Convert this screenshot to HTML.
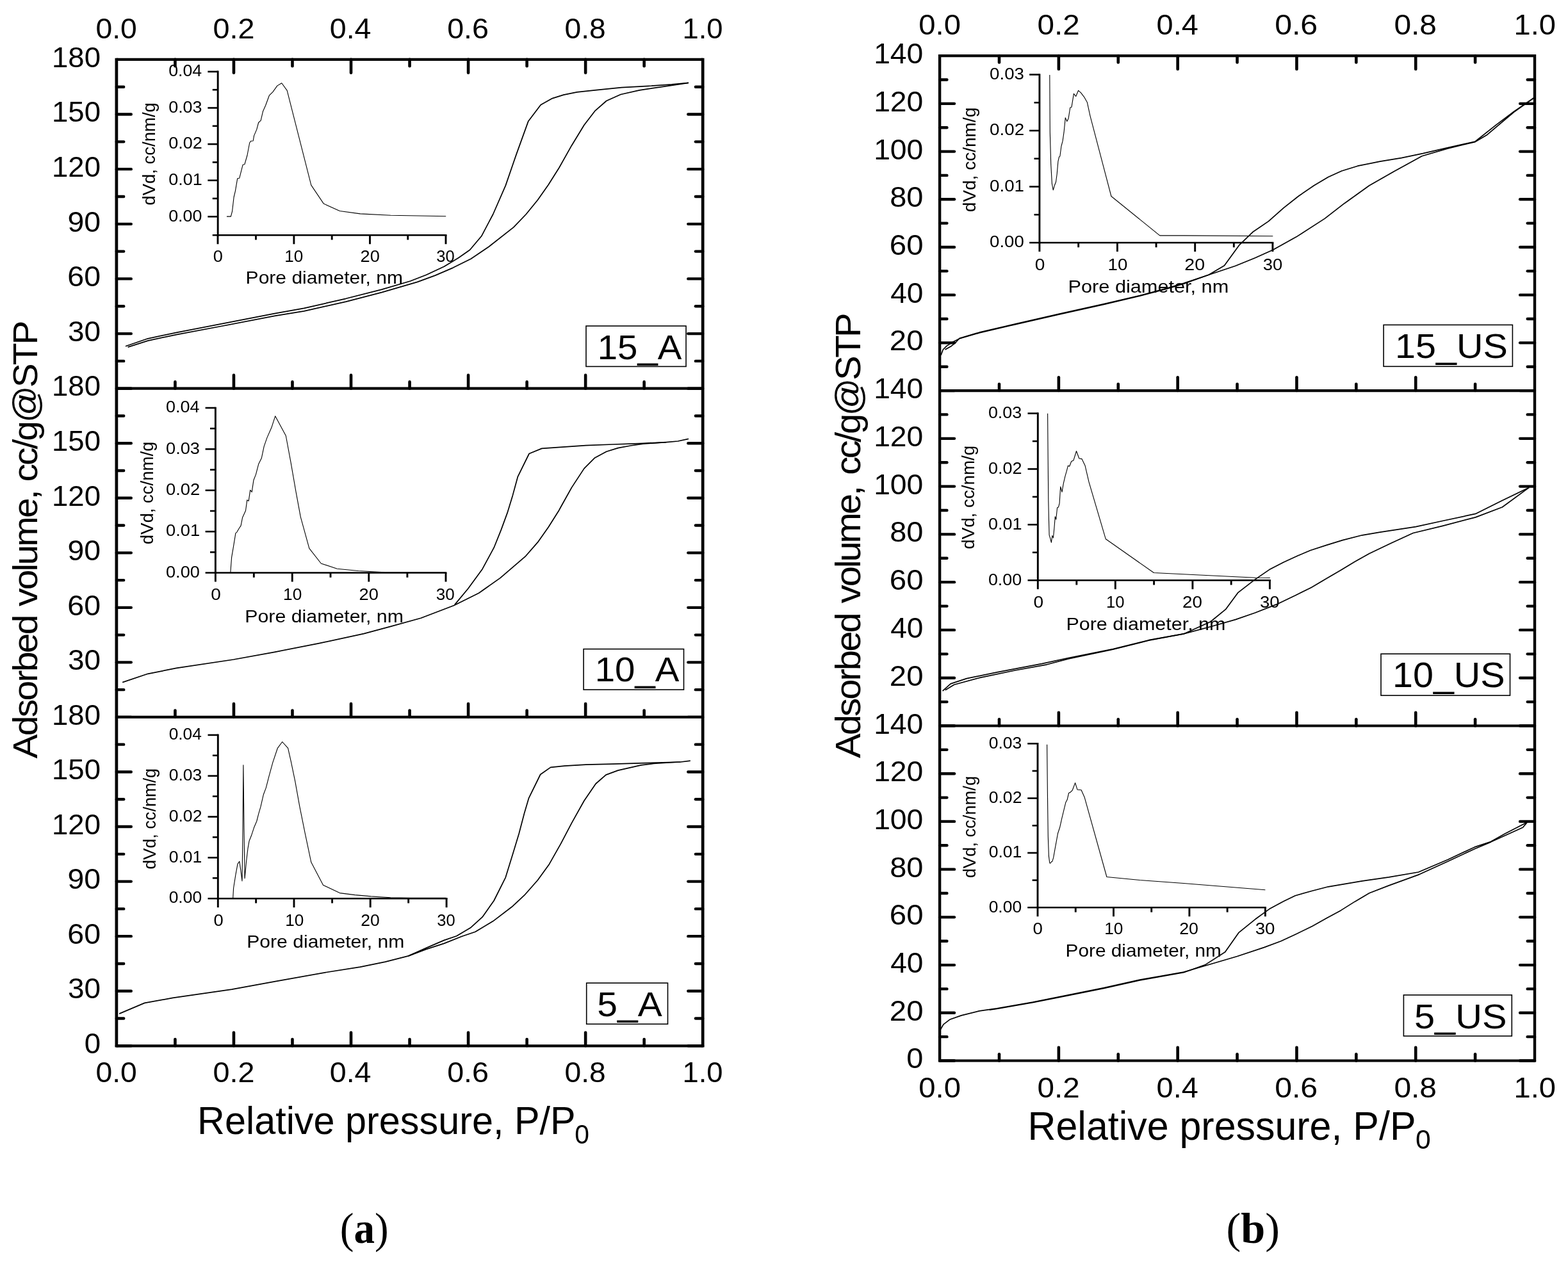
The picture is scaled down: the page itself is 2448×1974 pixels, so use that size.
<!DOCTYPE html>
<html><head><meta charset="utf-8"><title>Figure</title>
<style>
html,body{margin:0;padding:0;background:#fff;}
svg{display:block}
svg text{stroke:none;fill:#000;white-space:pre}
</style></head><body>
<svg width="2448" height="1974" viewBox="0 0 2448 1974" stroke="#000" fill="#000">
<line x1="181.90" y1="90.75" x2="181.90" y2="1635.45" stroke-width="4.7" stroke-linecap="butt"/>
<line x1="1097.20" y1="90.75" x2="1097.20" y2="1635.45" stroke-width="4.7" stroke-linecap="butt"/>
<line x1="181.90" y1="92.90" x2="1097.20" y2="92.90" stroke-width="4.3" stroke-linecap="butt"/>
<line x1="181.90" y1="606.70" x2="1097.20" y2="606.70" stroke-width="4.3" stroke-linecap="butt"/>
<line x1="181.90" y1="1119.90" x2="1097.20" y2="1119.90" stroke-width="4.3" stroke-linecap="butt"/>
<line x1="181.90" y1="1633.30" x2="1097.20" y2="1633.30" stroke-width="4.3" stroke-linecap="butt"/>
<line x1="273.43" y1="92.90" x2="273.43" y2="103.20" stroke-width="4.6" stroke-linecap="round"/>
<line x1="273.43" y1="606.70" x2="273.43" y2="596.40" stroke-width="4.6" stroke-linecap="round"/>
<line x1="273.43" y1="1119.90" x2="273.43" y2="1109.60" stroke-width="4.6" stroke-linecap="round"/>
<line x1="273.43" y1="1633.30" x2="273.43" y2="1623.00" stroke-width="4.6" stroke-linecap="round"/>
<line x1="364.96" y1="92.90" x2="364.96" y2="113.70" stroke-width="4.6" stroke-linecap="round"/>
<line x1="364.96" y1="606.70" x2="364.96" y2="585.90" stroke-width="4.6" stroke-linecap="round"/>
<line x1="364.96" y1="1119.90" x2="364.96" y2="1099.10" stroke-width="4.6" stroke-linecap="round"/>
<line x1="364.96" y1="1633.30" x2="364.96" y2="1612.50" stroke-width="4.6" stroke-linecap="round"/>
<line x1="456.49" y1="92.90" x2="456.49" y2="103.20" stroke-width="4.6" stroke-linecap="round"/>
<line x1="456.49" y1="606.70" x2="456.49" y2="596.40" stroke-width="4.6" stroke-linecap="round"/>
<line x1="456.49" y1="1119.90" x2="456.49" y2="1109.60" stroke-width="4.6" stroke-linecap="round"/>
<line x1="456.49" y1="1633.30" x2="456.49" y2="1623.00" stroke-width="4.6" stroke-linecap="round"/>
<line x1="548.02" y1="92.90" x2="548.02" y2="113.70" stroke-width="4.6" stroke-linecap="round"/>
<line x1="548.02" y1="606.70" x2="548.02" y2="585.90" stroke-width="4.6" stroke-linecap="round"/>
<line x1="548.02" y1="1119.90" x2="548.02" y2="1099.10" stroke-width="4.6" stroke-linecap="round"/>
<line x1="548.02" y1="1633.30" x2="548.02" y2="1612.50" stroke-width="4.6" stroke-linecap="round"/>
<line x1="639.55" y1="92.90" x2="639.55" y2="103.20" stroke-width="4.6" stroke-linecap="round"/>
<line x1="639.55" y1="606.70" x2="639.55" y2="596.40" stroke-width="4.6" stroke-linecap="round"/>
<line x1="639.55" y1="1119.90" x2="639.55" y2="1109.60" stroke-width="4.6" stroke-linecap="round"/>
<line x1="639.55" y1="1633.30" x2="639.55" y2="1623.00" stroke-width="4.6" stroke-linecap="round"/>
<line x1="731.08" y1="92.90" x2="731.08" y2="113.70" stroke-width="4.6" stroke-linecap="round"/>
<line x1="731.08" y1="606.70" x2="731.08" y2="585.90" stroke-width="4.6" stroke-linecap="round"/>
<line x1="731.08" y1="1119.90" x2="731.08" y2="1099.10" stroke-width="4.6" stroke-linecap="round"/>
<line x1="731.08" y1="1633.30" x2="731.08" y2="1612.50" stroke-width="4.6" stroke-linecap="round"/>
<line x1="822.61" y1="92.90" x2="822.61" y2="103.20" stroke-width="4.6" stroke-linecap="round"/>
<line x1="822.61" y1="606.70" x2="822.61" y2="596.40" stroke-width="4.6" stroke-linecap="round"/>
<line x1="822.61" y1="1119.90" x2="822.61" y2="1109.60" stroke-width="4.6" stroke-linecap="round"/>
<line x1="822.61" y1="1633.30" x2="822.61" y2="1623.00" stroke-width="4.6" stroke-linecap="round"/>
<line x1="914.14" y1="92.90" x2="914.14" y2="113.70" stroke-width="4.6" stroke-linecap="round"/>
<line x1="914.14" y1="606.70" x2="914.14" y2="585.90" stroke-width="4.6" stroke-linecap="round"/>
<line x1="914.14" y1="1119.90" x2="914.14" y2="1099.10" stroke-width="4.6" stroke-linecap="round"/>
<line x1="914.14" y1="1633.30" x2="914.14" y2="1612.50" stroke-width="4.6" stroke-linecap="round"/>
<line x1="1005.67" y1="92.90" x2="1005.67" y2="103.20" stroke-width="4.6" stroke-linecap="round"/>
<line x1="1005.67" y1="606.70" x2="1005.67" y2="596.40" stroke-width="4.6" stroke-linecap="round"/>
<line x1="1005.67" y1="1119.90" x2="1005.67" y2="1109.60" stroke-width="4.6" stroke-linecap="round"/>
<line x1="1005.67" y1="1633.30" x2="1005.67" y2="1623.00" stroke-width="4.6" stroke-linecap="round"/>
<line x1="181.90" y1="135.72" x2="193.22" y2="135.72" stroke-width="4.35" stroke-linecap="round"/>
<line x1="1097.20" y1="135.72" x2="1085.88" y2="135.72" stroke-width="4.35" stroke-linecap="round"/>
<line x1="181.90" y1="178.53" x2="204.82" y2="178.53" stroke-width="4.35" stroke-linecap="round"/>
<line x1="1097.20" y1="178.53" x2="1074.28" y2="178.53" stroke-width="4.35" stroke-linecap="round"/>
<line x1="181.90" y1="221.35" x2="193.22" y2="221.35" stroke-width="4.35" stroke-linecap="round"/>
<line x1="1097.20" y1="221.35" x2="1085.88" y2="221.35" stroke-width="4.35" stroke-linecap="round"/>
<line x1="181.90" y1="264.17" x2="204.82" y2="264.17" stroke-width="4.35" stroke-linecap="round"/>
<line x1="1097.20" y1="264.17" x2="1074.28" y2="264.17" stroke-width="4.35" stroke-linecap="round"/>
<line x1="181.90" y1="306.98" x2="193.22" y2="306.98" stroke-width="4.35" stroke-linecap="round"/>
<line x1="1097.20" y1="306.98" x2="1085.88" y2="306.98" stroke-width="4.35" stroke-linecap="round"/>
<line x1="181.90" y1="349.80" x2="204.82" y2="349.80" stroke-width="4.35" stroke-linecap="round"/>
<line x1="1097.20" y1="349.80" x2="1074.28" y2="349.80" stroke-width="4.35" stroke-linecap="round"/>
<line x1="181.90" y1="392.62" x2="193.22" y2="392.62" stroke-width="4.35" stroke-linecap="round"/>
<line x1="1097.20" y1="392.62" x2="1085.88" y2="392.62" stroke-width="4.35" stroke-linecap="round"/>
<line x1="181.90" y1="435.43" x2="204.82" y2="435.43" stroke-width="4.35" stroke-linecap="round"/>
<line x1="1097.20" y1="435.43" x2="1074.28" y2="435.43" stroke-width="4.35" stroke-linecap="round"/>
<line x1="181.90" y1="478.25" x2="193.22" y2="478.25" stroke-width="4.35" stroke-linecap="round"/>
<line x1="1097.20" y1="478.25" x2="1085.88" y2="478.25" stroke-width="4.35" stroke-linecap="round"/>
<line x1="181.90" y1="521.07" x2="204.82" y2="521.07" stroke-width="4.35" stroke-linecap="round"/>
<line x1="1097.20" y1="521.07" x2="1074.28" y2="521.07" stroke-width="4.35" stroke-linecap="round"/>
<line x1="181.90" y1="563.88" x2="193.22" y2="563.88" stroke-width="4.35" stroke-linecap="round"/>
<line x1="1097.20" y1="563.88" x2="1085.88" y2="563.88" stroke-width="4.35" stroke-linecap="round"/>
<line x1="181.90" y1="606.70" x2="204.82" y2="606.70" stroke-width="4.35" stroke-linecap="round"/>
<line x1="1097.20" y1="606.70" x2="1074.28" y2="606.70" stroke-width="4.35" stroke-linecap="round"/>
<text transform="translate(80.98,104.66) scale(1.0339,1)" font-size="44.10" font-family="'Liberation Sans',Arial,sans-serif">180</text>
<text transform="translate(80.98,190.29) scale(1.0339,1)" font-size="44.10" font-family="'Liberation Sans',Arial,sans-serif">150</text>
<text transform="translate(80.98,275.93) scale(1.0339,1)" font-size="44.10" font-family="'Liberation Sans',Arial,sans-serif">120</text>
<text transform="translate(105.49,361.56) scale(1.0531,1)" font-size="44.10" font-family="'Liberation Sans',Arial,sans-serif">90</text>
<text transform="translate(105.37,447.19) scale(1.0556,1)" font-size="44.10" font-family="'Liberation Sans',Arial,sans-serif">60</text>
<text transform="translate(105.98,532.83) scale(1.0429,1)" font-size="44.10" font-family="'Liberation Sans',Arial,sans-serif">30</text>
<line x1="181.90" y1="649.47" x2="193.22" y2="649.47" stroke-width="4.35" stroke-linecap="round"/>
<line x1="1097.20" y1="649.47" x2="1085.88" y2="649.47" stroke-width="4.35" stroke-linecap="round"/>
<line x1="181.90" y1="692.23" x2="204.82" y2="692.23" stroke-width="4.35" stroke-linecap="round"/>
<line x1="1097.20" y1="692.23" x2="1074.28" y2="692.23" stroke-width="4.35" stroke-linecap="round"/>
<line x1="181.90" y1="735.00" x2="193.22" y2="735.00" stroke-width="4.35" stroke-linecap="round"/>
<line x1="1097.20" y1="735.00" x2="1085.88" y2="735.00" stroke-width="4.35" stroke-linecap="round"/>
<line x1="181.90" y1="777.77" x2="204.82" y2="777.77" stroke-width="4.35" stroke-linecap="round"/>
<line x1="1097.20" y1="777.77" x2="1074.28" y2="777.77" stroke-width="4.35" stroke-linecap="round"/>
<line x1="181.90" y1="820.53" x2="193.22" y2="820.53" stroke-width="4.35" stroke-linecap="round"/>
<line x1="1097.20" y1="820.53" x2="1085.88" y2="820.53" stroke-width="4.35" stroke-linecap="round"/>
<line x1="181.90" y1="863.30" x2="204.82" y2="863.30" stroke-width="4.35" stroke-linecap="round"/>
<line x1="1097.20" y1="863.30" x2="1074.28" y2="863.30" stroke-width="4.35" stroke-linecap="round"/>
<line x1="181.90" y1="906.07" x2="193.22" y2="906.07" stroke-width="4.35" stroke-linecap="round"/>
<line x1="1097.20" y1="906.07" x2="1085.88" y2="906.07" stroke-width="4.35" stroke-linecap="round"/>
<line x1="181.90" y1="948.83" x2="204.82" y2="948.83" stroke-width="4.35" stroke-linecap="round"/>
<line x1="1097.20" y1="948.83" x2="1074.28" y2="948.83" stroke-width="4.35" stroke-linecap="round"/>
<line x1="181.90" y1="991.60" x2="193.22" y2="991.60" stroke-width="4.35" stroke-linecap="round"/>
<line x1="1097.20" y1="991.60" x2="1085.88" y2="991.60" stroke-width="4.35" stroke-linecap="round"/>
<line x1="181.90" y1="1034.37" x2="204.82" y2="1034.37" stroke-width="4.35" stroke-linecap="round"/>
<line x1="1097.20" y1="1034.37" x2="1074.28" y2="1034.37" stroke-width="4.35" stroke-linecap="round"/>
<line x1="181.90" y1="1077.13" x2="193.22" y2="1077.13" stroke-width="4.35" stroke-linecap="round"/>
<line x1="1097.20" y1="1077.13" x2="1085.88" y2="1077.13" stroke-width="4.35" stroke-linecap="round"/>
<line x1="181.90" y1="1119.90" x2="204.82" y2="1119.90" stroke-width="4.35" stroke-linecap="round"/>
<line x1="1097.20" y1="1119.90" x2="1074.28" y2="1119.90" stroke-width="4.35" stroke-linecap="round"/>
<text transform="translate(80.98,618.46) scale(1.0339,1)" font-size="44.10" font-family="'Liberation Sans',Arial,sans-serif">180</text>
<text transform="translate(80.98,703.99) scale(1.0339,1)" font-size="44.10" font-family="'Liberation Sans',Arial,sans-serif">150</text>
<text transform="translate(80.98,789.53) scale(1.0339,1)" font-size="44.10" font-family="'Liberation Sans',Arial,sans-serif">120</text>
<text transform="translate(105.49,875.06) scale(1.0531,1)" font-size="44.10" font-family="'Liberation Sans',Arial,sans-serif">90</text>
<text transform="translate(105.37,960.59) scale(1.0556,1)" font-size="44.10" font-family="'Liberation Sans',Arial,sans-serif">60</text>
<text transform="translate(105.98,1046.13) scale(1.0429,1)" font-size="44.10" font-family="'Liberation Sans',Arial,sans-serif">30</text>
<line x1="181.90" y1="1162.68" x2="193.22" y2="1162.68" stroke-width="4.35" stroke-linecap="round"/>
<line x1="1097.20" y1="1162.68" x2="1085.88" y2="1162.68" stroke-width="4.35" stroke-linecap="round"/>
<line x1="181.90" y1="1205.47" x2="204.82" y2="1205.47" stroke-width="4.35" stroke-linecap="round"/>
<line x1="1097.20" y1="1205.47" x2="1074.28" y2="1205.47" stroke-width="4.35" stroke-linecap="round"/>
<line x1="181.90" y1="1248.25" x2="193.22" y2="1248.25" stroke-width="4.35" stroke-linecap="round"/>
<line x1="1097.20" y1="1248.25" x2="1085.88" y2="1248.25" stroke-width="4.35" stroke-linecap="round"/>
<line x1="181.90" y1="1291.03" x2="204.82" y2="1291.03" stroke-width="4.35" stroke-linecap="round"/>
<line x1="1097.20" y1="1291.03" x2="1074.28" y2="1291.03" stroke-width="4.35" stroke-linecap="round"/>
<line x1="181.90" y1="1333.82" x2="193.22" y2="1333.82" stroke-width="4.35" stroke-linecap="round"/>
<line x1="1097.20" y1="1333.82" x2="1085.88" y2="1333.82" stroke-width="4.35" stroke-linecap="round"/>
<line x1="181.90" y1="1376.60" x2="204.82" y2="1376.60" stroke-width="4.35" stroke-linecap="round"/>
<line x1="1097.20" y1="1376.60" x2="1074.28" y2="1376.60" stroke-width="4.35" stroke-linecap="round"/>
<line x1="181.90" y1="1419.38" x2="193.22" y2="1419.38" stroke-width="4.35" stroke-linecap="round"/>
<line x1="1097.20" y1="1419.38" x2="1085.88" y2="1419.38" stroke-width="4.35" stroke-linecap="round"/>
<line x1="181.90" y1="1462.17" x2="204.82" y2="1462.17" stroke-width="4.35" stroke-linecap="round"/>
<line x1="1097.20" y1="1462.17" x2="1074.28" y2="1462.17" stroke-width="4.35" stroke-linecap="round"/>
<line x1="181.90" y1="1504.95" x2="193.22" y2="1504.95" stroke-width="4.35" stroke-linecap="round"/>
<line x1="1097.20" y1="1504.95" x2="1085.88" y2="1504.95" stroke-width="4.35" stroke-linecap="round"/>
<line x1="181.90" y1="1547.73" x2="204.82" y2="1547.73" stroke-width="4.35" stroke-linecap="round"/>
<line x1="1097.20" y1="1547.73" x2="1074.28" y2="1547.73" stroke-width="4.35" stroke-linecap="round"/>
<line x1="181.90" y1="1590.52" x2="193.22" y2="1590.52" stroke-width="4.35" stroke-linecap="round"/>
<line x1="1097.20" y1="1590.52" x2="1085.88" y2="1590.52" stroke-width="4.35" stroke-linecap="round"/>
<line x1="181.90" y1="1633.30" x2="204.82" y2="1633.30" stroke-width="4.35" stroke-linecap="round"/>
<line x1="1097.20" y1="1633.30" x2="1074.28" y2="1633.30" stroke-width="4.35" stroke-linecap="round"/>
<text transform="translate(80.98,1131.66) scale(1.0339,1)" font-size="44.10" font-family="'Liberation Sans',Arial,sans-serif">180</text>
<text transform="translate(80.98,1217.23) scale(1.0339,1)" font-size="44.10" font-family="'Liberation Sans',Arial,sans-serif">150</text>
<text transform="translate(80.98,1302.79) scale(1.0339,1)" font-size="44.10" font-family="'Liberation Sans',Arial,sans-serif">120</text>
<text transform="translate(105.49,1388.36) scale(1.0531,1)" font-size="44.10" font-family="'Liberation Sans',Arial,sans-serif">90</text>
<text transform="translate(105.37,1473.93) scale(1.0556,1)" font-size="44.10" font-family="'Liberation Sans',Arial,sans-serif">60</text>
<text transform="translate(105.98,1559.49) scale(1.0429,1)" font-size="44.10" font-family="'Liberation Sans',Arial,sans-serif">30</text>
<text transform="translate(131.67,1644.76) scale(1.0353,1)" font-size="44.10" font-family="'Liberation Sans',Arial,sans-serif">0</text>
<text transform="translate(149.45,60.36) scale(1.0505,1)" font-size="44.10" font-family="'Liberation Sans',Arial,sans-serif">0.0</text>
<text transform="translate(149.45,1689.56) scale(1.0505,1)" font-size="44.10" font-family="'Liberation Sans',Arial,sans-serif">0.0</text>
<text transform="translate(332.53,60.36) scale(1.0606,1)" font-size="44.10" font-family="'Liberation Sans',Arial,sans-serif">0.2</text>
<text transform="translate(332.53,1689.56) scale(1.0606,1)" font-size="44.10" font-family="'Liberation Sans',Arial,sans-serif">0.2</text>
<text transform="translate(514.73,60.36) scale(1.0579,1)" font-size="44.10" font-family="'Liberation Sans',Arial,sans-serif">0.4</text>
<text transform="translate(514.73,1689.56) scale(1.0579,1)" font-size="44.10" font-family="'Liberation Sans',Arial,sans-serif">0.4</text>
<text transform="translate(698.13,60.36) scale(1.0579,1)" font-size="44.10" font-family="'Liberation Sans',Arial,sans-serif">0.6</text>
<text transform="translate(698.13,1689.56) scale(1.0579,1)" font-size="44.10" font-family="'Liberation Sans',Arial,sans-serif">0.6</text>
<text transform="translate(881.45,60.36) scale(1.0493,1)" font-size="44.10" font-family="'Liberation Sans',Arial,sans-serif">0.8</text>
<text transform="translate(881.45,1689.56) scale(1.0493,1)" font-size="44.10" font-family="'Liberation Sans',Arial,sans-serif">0.8</text>
<text transform="translate(1065.49,60.36) scale(1.0295,1)" font-size="44.10" font-family="'Liberation Sans',Arial,sans-serif">1.0</text>
<text transform="translate(1065.49,1689.56) scale(1.0295,1)" font-size="44.10" font-family="'Liberation Sans',Arial,sans-serif">1.0</text>
<line x1="1467.10" y1="85.08" x2="1467.10" y2="1658.58" stroke-width="4.4" stroke-linecap="butt"/>
<line x1="2396.00" y1="85.08" x2="2396.00" y2="1658.58" stroke-width="4.4" stroke-linecap="butt"/>
<line x1="1467.10" y1="87.16" x2="2396.00" y2="87.16" stroke-width="4.15" stroke-linecap="butt"/>
<line x1="1467.10" y1="610.05" x2="2396.00" y2="610.05" stroke-width="4.15" stroke-linecap="butt"/>
<line x1="1467.10" y1="1133.50" x2="2396.00" y2="1133.50" stroke-width="4.15" stroke-linecap="butt"/>
<line x1="1467.10" y1="1656.50" x2="2396.00" y2="1656.50" stroke-width="4.15" stroke-linecap="butt"/>
<line x1="1559.99" y1="87.16" x2="1559.99" y2="97.46" stroke-width="4.6" stroke-linecap="round"/>
<line x1="1559.99" y1="610.05" x2="1559.99" y2="599.75" stroke-width="4.6" stroke-linecap="round"/>
<line x1="1559.99" y1="1133.50" x2="1559.99" y2="1123.20" stroke-width="4.6" stroke-linecap="round"/>
<line x1="1559.99" y1="1656.50" x2="1559.99" y2="1646.20" stroke-width="4.6" stroke-linecap="round"/>
<line x1="1652.88" y1="87.16" x2="1652.88" y2="107.96" stroke-width="4.6" stroke-linecap="round"/>
<line x1="1652.88" y1="610.05" x2="1652.88" y2="589.25" stroke-width="4.6" stroke-linecap="round"/>
<line x1="1652.88" y1="1133.50" x2="1652.88" y2="1112.70" stroke-width="4.6" stroke-linecap="round"/>
<line x1="1652.88" y1="1656.50" x2="1652.88" y2="1635.70" stroke-width="4.6" stroke-linecap="round"/>
<line x1="1745.77" y1="87.16" x2="1745.77" y2="97.46" stroke-width="4.6" stroke-linecap="round"/>
<line x1="1745.77" y1="610.05" x2="1745.77" y2="599.75" stroke-width="4.6" stroke-linecap="round"/>
<line x1="1745.77" y1="1133.50" x2="1745.77" y2="1123.20" stroke-width="4.6" stroke-linecap="round"/>
<line x1="1745.77" y1="1656.50" x2="1745.77" y2="1646.20" stroke-width="4.6" stroke-linecap="round"/>
<line x1="1838.66" y1="87.16" x2="1838.66" y2="107.96" stroke-width="4.6" stroke-linecap="round"/>
<line x1="1838.66" y1="610.05" x2="1838.66" y2="589.25" stroke-width="4.6" stroke-linecap="round"/>
<line x1="1838.66" y1="1133.50" x2="1838.66" y2="1112.70" stroke-width="4.6" stroke-linecap="round"/>
<line x1="1838.66" y1="1656.50" x2="1838.66" y2="1635.70" stroke-width="4.6" stroke-linecap="round"/>
<line x1="1931.55" y1="87.16" x2="1931.55" y2="97.46" stroke-width="4.6" stroke-linecap="round"/>
<line x1="1931.55" y1="610.05" x2="1931.55" y2="599.75" stroke-width="4.6" stroke-linecap="round"/>
<line x1="1931.55" y1="1133.50" x2="1931.55" y2="1123.20" stroke-width="4.6" stroke-linecap="round"/>
<line x1="1931.55" y1="1656.50" x2="1931.55" y2="1646.20" stroke-width="4.6" stroke-linecap="round"/>
<line x1="2024.44" y1="87.16" x2="2024.44" y2="107.96" stroke-width="4.6" stroke-linecap="round"/>
<line x1="2024.44" y1="610.05" x2="2024.44" y2="589.25" stroke-width="4.6" stroke-linecap="round"/>
<line x1="2024.44" y1="1133.50" x2="2024.44" y2="1112.70" stroke-width="4.6" stroke-linecap="round"/>
<line x1="2024.44" y1="1656.50" x2="2024.44" y2="1635.70" stroke-width="4.6" stroke-linecap="round"/>
<line x1="2117.33" y1="87.16" x2="2117.33" y2="97.46" stroke-width="4.6" stroke-linecap="round"/>
<line x1="2117.33" y1="610.05" x2="2117.33" y2="599.75" stroke-width="4.6" stroke-linecap="round"/>
<line x1="2117.33" y1="1133.50" x2="2117.33" y2="1123.20" stroke-width="4.6" stroke-linecap="round"/>
<line x1="2117.33" y1="1656.50" x2="2117.33" y2="1646.20" stroke-width="4.6" stroke-linecap="round"/>
<line x1="2210.22" y1="87.16" x2="2210.22" y2="107.96" stroke-width="4.6" stroke-linecap="round"/>
<line x1="2210.22" y1="610.05" x2="2210.22" y2="589.25" stroke-width="4.6" stroke-linecap="round"/>
<line x1="2210.22" y1="1133.50" x2="2210.22" y2="1112.70" stroke-width="4.6" stroke-linecap="round"/>
<line x1="2210.22" y1="1656.50" x2="2210.22" y2="1635.70" stroke-width="4.6" stroke-linecap="round"/>
<line x1="2303.11" y1="87.16" x2="2303.11" y2="97.46" stroke-width="4.6" stroke-linecap="round"/>
<line x1="2303.11" y1="610.05" x2="2303.11" y2="599.75" stroke-width="4.6" stroke-linecap="round"/>
<line x1="2303.11" y1="1133.50" x2="2303.11" y2="1123.20" stroke-width="4.6" stroke-linecap="round"/>
<line x1="2303.11" y1="1656.50" x2="2303.11" y2="1646.20" stroke-width="4.6" stroke-linecap="round"/>
<line x1="1467.10" y1="124.51" x2="1478.42" y2="124.51" stroke-width="4.35" stroke-linecap="round"/>
<line x1="2396.00" y1="124.51" x2="2384.68" y2="124.51" stroke-width="4.35" stroke-linecap="round"/>
<line x1="1467.10" y1="161.86" x2="1490.02" y2="161.86" stroke-width="4.35" stroke-linecap="round"/>
<line x1="2396.00" y1="161.86" x2="2373.08" y2="161.86" stroke-width="4.35" stroke-linecap="round"/>
<line x1="1467.10" y1="199.21" x2="1478.42" y2="199.21" stroke-width="4.35" stroke-linecap="round"/>
<line x1="2396.00" y1="199.21" x2="2384.68" y2="199.21" stroke-width="4.35" stroke-linecap="round"/>
<line x1="1467.10" y1="236.56" x2="1490.02" y2="236.56" stroke-width="4.35" stroke-linecap="round"/>
<line x1="2396.00" y1="236.56" x2="2373.08" y2="236.56" stroke-width="4.35" stroke-linecap="round"/>
<line x1="1467.10" y1="273.91" x2="1478.42" y2="273.91" stroke-width="4.35" stroke-linecap="round"/>
<line x1="2396.00" y1="273.91" x2="2384.68" y2="273.91" stroke-width="4.35" stroke-linecap="round"/>
<line x1="1467.10" y1="311.26" x2="1490.02" y2="311.26" stroke-width="4.35" stroke-linecap="round"/>
<line x1="2396.00" y1="311.26" x2="2373.08" y2="311.26" stroke-width="4.35" stroke-linecap="round"/>
<line x1="1467.10" y1="348.61" x2="1478.42" y2="348.61" stroke-width="4.35" stroke-linecap="round"/>
<line x1="2396.00" y1="348.61" x2="2384.68" y2="348.61" stroke-width="4.35" stroke-linecap="round"/>
<line x1="1467.10" y1="385.95" x2="1490.02" y2="385.95" stroke-width="4.35" stroke-linecap="round"/>
<line x1="2396.00" y1="385.95" x2="2373.08" y2="385.95" stroke-width="4.35" stroke-linecap="round"/>
<line x1="1467.10" y1="423.30" x2="1478.42" y2="423.30" stroke-width="4.35" stroke-linecap="round"/>
<line x1="2396.00" y1="423.30" x2="2384.68" y2="423.30" stroke-width="4.35" stroke-linecap="round"/>
<line x1="1467.10" y1="460.65" x2="1490.02" y2="460.65" stroke-width="4.35" stroke-linecap="round"/>
<line x1="2396.00" y1="460.65" x2="2373.08" y2="460.65" stroke-width="4.35" stroke-linecap="round"/>
<line x1="1467.10" y1="498.00" x2="1478.42" y2="498.00" stroke-width="4.35" stroke-linecap="round"/>
<line x1="2396.00" y1="498.00" x2="2384.68" y2="498.00" stroke-width="4.35" stroke-linecap="round"/>
<line x1="1467.10" y1="535.35" x2="1490.02" y2="535.35" stroke-width="4.35" stroke-linecap="round"/>
<line x1="2396.00" y1="535.35" x2="2373.08" y2="535.35" stroke-width="4.35" stroke-linecap="round"/>
<line x1="1467.10" y1="572.70" x2="1478.42" y2="572.70" stroke-width="4.35" stroke-linecap="round"/>
<line x1="2396.00" y1="572.70" x2="2384.68" y2="572.70" stroke-width="4.35" stroke-linecap="round"/>
<line x1="1467.10" y1="610.05" x2="1490.02" y2="610.05" stroke-width="4.35" stroke-linecap="round"/>
<line x1="2396.00" y1="610.05" x2="2373.08" y2="610.05" stroke-width="4.35" stroke-linecap="round"/>
<text transform="translate(1364.13,99.16) scale(1.0334,1)" font-size="44.81" font-family="'Liberation Sans',Arial,sans-serif">140</text>
<text transform="translate(1364.13,173.86) scale(1.0334,1)" font-size="44.81" font-family="'Liberation Sans',Arial,sans-serif">120</text>
<text transform="translate(1364.13,248.56) scale(1.0334,1)" font-size="44.81" font-family="'Liberation Sans',Arial,sans-serif">100</text>
<text transform="translate(1389.20,323.26) scale(1.0488,1)" font-size="44.81" font-family="'Liberation Sans',Arial,sans-serif">80</text>
<text transform="translate(1388.83,397.96) scale(1.0565,1)" font-size="44.81" font-family="'Liberation Sans',Arial,sans-serif">60</text>
<text transform="translate(1390.16,472.65) scale(1.0288,1)" font-size="44.81" font-family="'Liberation Sans',Arial,sans-serif">40</text>
<text transform="translate(1388.83,547.35) scale(1.0565,1)" font-size="44.81" font-family="'Liberation Sans',Arial,sans-serif">20</text>
<line x1="1467.10" y1="647.44" x2="1478.42" y2="647.44" stroke-width="4.35" stroke-linecap="round"/>
<line x1="2396.00" y1="647.44" x2="2384.68" y2="647.44" stroke-width="4.35" stroke-linecap="round"/>
<line x1="1467.10" y1="684.83" x2="1490.02" y2="684.83" stroke-width="4.35" stroke-linecap="round"/>
<line x1="2396.00" y1="684.83" x2="2373.08" y2="684.83" stroke-width="4.35" stroke-linecap="round"/>
<line x1="1467.10" y1="722.22" x2="1478.42" y2="722.22" stroke-width="4.35" stroke-linecap="round"/>
<line x1="2396.00" y1="722.22" x2="2384.68" y2="722.22" stroke-width="4.35" stroke-linecap="round"/>
<line x1="1467.10" y1="759.61" x2="1490.02" y2="759.61" stroke-width="4.35" stroke-linecap="round"/>
<line x1="2396.00" y1="759.61" x2="2373.08" y2="759.61" stroke-width="4.35" stroke-linecap="round"/>
<line x1="1467.10" y1="797.00" x2="1478.42" y2="797.00" stroke-width="4.35" stroke-linecap="round"/>
<line x1="2396.00" y1="797.00" x2="2384.68" y2="797.00" stroke-width="4.35" stroke-linecap="round"/>
<line x1="1467.10" y1="834.39" x2="1490.02" y2="834.39" stroke-width="4.35" stroke-linecap="round"/>
<line x1="2396.00" y1="834.39" x2="2373.08" y2="834.39" stroke-width="4.35" stroke-linecap="round"/>
<line x1="1467.10" y1="871.77" x2="1478.42" y2="871.77" stroke-width="4.35" stroke-linecap="round"/>
<line x1="2396.00" y1="871.77" x2="2384.68" y2="871.77" stroke-width="4.35" stroke-linecap="round"/>
<line x1="1467.10" y1="909.16" x2="1490.02" y2="909.16" stroke-width="4.35" stroke-linecap="round"/>
<line x1="2396.00" y1="909.16" x2="2373.08" y2="909.16" stroke-width="4.35" stroke-linecap="round"/>
<line x1="1467.10" y1="946.55" x2="1478.42" y2="946.55" stroke-width="4.35" stroke-linecap="round"/>
<line x1="2396.00" y1="946.55" x2="2384.68" y2="946.55" stroke-width="4.35" stroke-linecap="round"/>
<line x1="1467.10" y1="983.94" x2="1490.02" y2="983.94" stroke-width="4.35" stroke-linecap="round"/>
<line x1="2396.00" y1="983.94" x2="2373.08" y2="983.94" stroke-width="4.35" stroke-linecap="round"/>
<line x1="1467.10" y1="1021.33" x2="1478.42" y2="1021.33" stroke-width="4.35" stroke-linecap="round"/>
<line x1="2396.00" y1="1021.33" x2="2384.68" y2="1021.33" stroke-width="4.35" stroke-linecap="round"/>
<line x1="1467.10" y1="1058.72" x2="1490.02" y2="1058.72" stroke-width="4.35" stroke-linecap="round"/>
<line x1="2396.00" y1="1058.72" x2="2373.08" y2="1058.72" stroke-width="4.35" stroke-linecap="round"/>
<line x1="1467.10" y1="1096.11" x2="1478.42" y2="1096.11" stroke-width="4.35" stroke-linecap="round"/>
<line x1="2396.00" y1="1096.11" x2="2384.68" y2="1096.11" stroke-width="4.35" stroke-linecap="round"/>
<line x1="1467.10" y1="1133.50" x2="1490.02" y2="1133.50" stroke-width="4.35" stroke-linecap="round"/>
<line x1="2396.00" y1="1133.50" x2="2373.08" y2="1133.50" stroke-width="4.35" stroke-linecap="round"/>
<text transform="translate(1364.13,622.05) scale(1.0334,1)" font-size="44.81" font-family="'Liberation Sans',Arial,sans-serif">140</text>
<text transform="translate(1364.13,696.83) scale(1.0334,1)" font-size="44.81" font-family="'Liberation Sans',Arial,sans-serif">120</text>
<text transform="translate(1364.13,771.61) scale(1.0334,1)" font-size="44.81" font-family="'Liberation Sans',Arial,sans-serif">100</text>
<text transform="translate(1389.20,846.39) scale(1.0488,1)" font-size="44.81" font-family="'Liberation Sans',Arial,sans-serif">80</text>
<text transform="translate(1388.83,921.17) scale(1.0565,1)" font-size="44.81" font-family="'Liberation Sans',Arial,sans-serif">60</text>
<text transform="translate(1390.16,995.94) scale(1.0288,1)" font-size="44.81" font-family="'Liberation Sans',Arial,sans-serif">40</text>
<text transform="translate(1388.83,1070.72) scale(1.0565,1)" font-size="44.81" font-family="'Liberation Sans',Arial,sans-serif">20</text>
<line x1="1467.10" y1="1170.86" x2="1478.42" y2="1170.86" stroke-width="4.35" stroke-linecap="round"/>
<line x1="2396.00" y1="1170.86" x2="2384.68" y2="1170.86" stroke-width="4.35" stroke-linecap="round"/>
<line x1="1467.10" y1="1208.21" x2="1490.02" y2="1208.21" stroke-width="4.35" stroke-linecap="round"/>
<line x1="2396.00" y1="1208.21" x2="2373.08" y2="1208.21" stroke-width="4.35" stroke-linecap="round"/>
<line x1="1467.10" y1="1245.57" x2="1478.42" y2="1245.57" stroke-width="4.35" stroke-linecap="round"/>
<line x1="2396.00" y1="1245.57" x2="2384.68" y2="1245.57" stroke-width="4.35" stroke-linecap="round"/>
<line x1="1467.10" y1="1282.93" x2="1490.02" y2="1282.93" stroke-width="4.35" stroke-linecap="round"/>
<line x1="2396.00" y1="1282.93" x2="2373.08" y2="1282.93" stroke-width="4.35" stroke-linecap="round"/>
<line x1="1467.10" y1="1320.29" x2="1478.42" y2="1320.29" stroke-width="4.35" stroke-linecap="round"/>
<line x1="2396.00" y1="1320.29" x2="2384.68" y2="1320.29" stroke-width="4.35" stroke-linecap="round"/>
<line x1="1467.10" y1="1357.64" x2="1490.02" y2="1357.64" stroke-width="4.35" stroke-linecap="round"/>
<line x1="2396.00" y1="1357.64" x2="2373.08" y2="1357.64" stroke-width="4.35" stroke-linecap="round"/>
<line x1="1467.10" y1="1395.00" x2="1478.42" y2="1395.00" stroke-width="4.35" stroke-linecap="round"/>
<line x1="2396.00" y1="1395.00" x2="2384.68" y2="1395.00" stroke-width="4.35" stroke-linecap="round"/>
<line x1="1467.10" y1="1432.36" x2="1490.02" y2="1432.36" stroke-width="4.35" stroke-linecap="round"/>
<line x1="2396.00" y1="1432.36" x2="2373.08" y2="1432.36" stroke-width="4.35" stroke-linecap="round"/>
<line x1="1467.10" y1="1469.71" x2="1478.42" y2="1469.71" stroke-width="4.35" stroke-linecap="round"/>
<line x1="2396.00" y1="1469.71" x2="2384.68" y2="1469.71" stroke-width="4.35" stroke-linecap="round"/>
<line x1="1467.10" y1="1507.07" x2="1490.02" y2="1507.07" stroke-width="4.35" stroke-linecap="round"/>
<line x1="2396.00" y1="1507.07" x2="2373.08" y2="1507.07" stroke-width="4.35" stroke-linecap="round"/>
<line x1="1467.10" y1="1544.43" x2="1478.42" y2="1544.43" stroke-width="4.35" stroke-linecap="round"/>
<line x1="2396.00" y1="1544.43" x2="2384.68" y2="1544.43" stroke-width="4.35" stroke-linecap="round"/>
<line x1="1467.10" y1="1581.79" x2="1490.02" y2="1581.79" stroke-width="4.35" stroke-linecap="round"/>
<line x1="2396.00" y1="1581.79" x2="2373.08" y2="1581.79" stroke-width="4.35" stroke-linecap="round"/>
<line x1="1467.10" y1="1619.14" x2="1478.42" y2="1619.14" stroke-width="4.35" stroke-linecap="round"/>
<line x1="2396.00" y1="1619.14" x2="2384.68" y2="1619.14" stroke-width="4.35" stroke-linecap="round"/>
<line x1="1467.10" y1="1656.50" x2="1490.02" y2="1656.50" stroke-width="4.35" stroke-linecap="round"/>
<line x1="2396.00" y1="1656.50" x2="2373.08" y2="1656.50" stroke-width="4.35" stroke-linecap="round"/>
<text transform="translate(1364.13,1145.50) scale(1.0334,1)" font-size="44.81" font-family="'Liberation Sans',Arial,sans-serif">140</text>
<text transform="translate(1364.13,1220.22) scale(1.0334,1)" font-size="44.81" font-family="'Liberation Sans',Arial,sans-serif">120</text>
<text transform="translate(1364.13,1294.93) scale(1.0334,1)" font-size="44.81" font-family="'Liberation Sans',Arial,sans-serif">100</text>
<text transform="translate(1389.20,1369.64) scale(1.0488,1)" font-size="44.81" font-family="'Liberation Sans',Arial,sans-serif">80</text>
<text transform="translate(1388.83,1444.36) scale(1.0565,1)" font-size="44.81" font-family="'Liberation Sans',Arial,sans-serif">60</text>
<text transform="translate(1390.16,1519.07) scale(1.0288,1)" font-size="44.81" font-family="'Liberation Sans',Arial,sans-serif">40</text>
<text transform="translate(1388.83,1593.79) scale(1.0565,1)" font-size="44.81" font-family="'Liberation Sans',Arial,sans-serif">20</text>
<text transform="translate(1415.32,1668.20) scale(1.0470,1)" font-size="44.81" font-family="'Liberation Sans',Arial,sans-serif">0</text>
<text transform="translate(1434.31,53.50) scale(1.0543,1)" font-size="44.81" font-family="'Liberation Sans',Arial,sans-serif">0.0</text>
<text transform="translate(1434.31,1713.50) scale(1.0543,1)" font-size="44.81" font-family="'Liberation Sans',Arial,sans-serif">0.0</text>
<text transform="translate(1619.60,53.50) scale(1.0627,1)" font-size="44.81" font-family="'Liberation Sans',Arial,sans-serif">0.2</text>
<text transform="translate(1619.60,1713.50) scale(1.0627,1)" font-size="44.81" font-family="'Liberation Sans',Arial,sans-serif">0.2</text>
<text transform="translate(1805.62,53.50) scale(1.0463,1)" font-size="44.81" font-family="'Liberation Sans',Arial,sans-serif">0.4</text>
<text transform="translate(1805.62,1713.50) scale(1.0463,1)" font-size="44.81" font-family="'Liberation Sans',Arial,sans-serif">0.4</text>
<text transform="translate(1990.17,53.50) scale(1.0754,1)" font-size="44.81" font-family="'Liberation Sans',Arial,sans-serif">0.6</text>
<text transform="translate(1990.17,1713.50) scale(1.0754,1)" font-size="44.81" font-family="'Liberation Sans',Arial,sans-serif">0.6</text>
<text transform="translate(2176.38,53.50) scale(1.0703,1)" font-size="44.81" font-family="'Liberation Sans',Arial,sans-serif">0.8</text>
<text transform="translate(2176.38,1713.50) scale(1.0703,1)" font-size="44.81" font-family="'Liberation Sans',Arial,sans-serif">0.8</text>
<text transform="translate(2363.47,53.50) scale(1.0517,1)" font-size="44.81" font-family="'Liberation Sans',Arial,sans-serif">1.0</text>
<text transform="translate(2363.47,1713.50) scale(1.0517,1)" font-size="44.81" font-family="'Liberation Sans',Arial,sans-serif">1.0</text>
<text transform="translate(58.20,1184.30) rotate(-90) scale(1.0600,1)" font-size="53.67" font-family="'Liberation Sans',Arial,sans-serif"><tspan x="-0.13" letter-spacing="-2.507">Adsorbed </tspan><tspan x="223.88" letter-spacing="-2.598">volume, </tspan><tspan x="407.34" letter-spacing="-2.789">cc/g@STP</tspan></text>
<text transform="translate(1343.00,1183.80) rotate(-90) scale(1.0600,1)" font-size="54.69" font-family="'Liberation Sans',Arial,sans-serif"><tspan x="-0.14" letter-spacing="-2.757">Adsorbed </tspan><tspan x="227.93" letter-spacing="-2.955">volume, </tspan><tspan x="417.11" letter-spacing="-3.298">cc/g@STP</tspan></text>
<text transform="translate(308.10,1770.60) scale(0.9625,1)" font-size="61.67" font-family="'Liberation Sans',Arial,sans-serif">Relative pressure, P/P</text>
<text transform="translate(897.27,1785.78) scale(0.9761,1)" font-size="41.84" font-family="'Liberation Sans',Arial,sans-serif">0</text>
<text transform="translate(1604.47,1779.60) scale(0.9741,1)" font-size="62.55" font-family="'Liberation Sans',Arial,sans-serif">Relative pressure, P/P</text>
<text transform="translate(2209.99,1794.38) scale(1.0143,1)" font-size="42.12" font-family="'Liberation Sans',Arial,sans-serif">0</text>
<rect x="915.00" y="509.10" width="156.05" height="63.30" fill="#fff" stroke-width="1.6"/>
<text transform="translate(932.77,560.50) scale(1.0413,1)" font-size="54.11" font-family="'Liberation Sans',Arial,sans-serif">15<tspan dy="-0.5">_</tspan><tspan dy="0.5">A</tspan></text>
<rect x="911.10" y="1013.60" width="156.40" height="63.50" fill="#fff" stroke-width="1.6"/>
<text transform="translate(928.67,1064.30) scale(1.0486,1)" font-size="53.82" font-family="'Liberation Sans',Arial,sans-serif">10<tspan dy="-0.5">_</tspan><tspan dy="0.5">A</tspan></text>
<rect x="915.70" y="1535.20" width="126.80" height="64.10" fill="#fff" stroke-width="1.6"/>
<text transform="translate(932.32,1586.80) scale(1.0587,1)" font-size="53.82" font-family="'Liberation Sans',Arial,sans-serif">5<tspan dy="-0.5">_</tspan><tspan dy="0.5">A</tspan></text>
<rect x="2160.10" y="507.40" width="201.30" height="64.90" fill="#fff" stroke-width="1.6"/>
<text transform="translate(2178.09,559.30) scale(1.0594,1)" font-size="54.25" font-family="'Liberation Sans',Arial,sans-serif">15<tspan dy="-0.5">_</tspan><tspan dy="0.5">US</tspan></text>
<rect x="2156.00" y="1021.20" width="201.50" height="64.90" fill="#fff" stroke-width="1.6"/>
<text transform="translate(2173.99,1073.00) scale(1.0448,1)" font-size="54.98" font-family="'Liberation Sans',Arial,sans-serif">10<tspan dy="-0.5">_</tspan><tspan dy="0.5">US</tspan></text>
<rect x="2191.40" y="1553.90" width="168.90" height="64.10" fill="#fff" stroke-width="1.6"/>
<text transform="translate(2207.99,1605.50) scale(1.0725,1)" font-size="53.82" font-family="'Liberation Sans',Arial,sans-serif">5<tspan dy="-0.5">_</tspan><tspan dy="0.5">US</tspan></text>
<polyline points="196.0,540.7 230.8,528.8 275.4,519.3 345.1,505.9 428.7,489.7 474.7,481.4 540.2,466.3 595.9,452.1 640.5,439.0 665.6,429.3 693.4,416.2 715.7,402.8 733.6,390.2 751.7,368.8 769.8,334.5 789.3,289.9 806.1,241.1 824.7,189.6 844.2,163.7 862.4,153.6 879.9,148.1 900.8,143.9 928.7,140.8 970.5,136.6 1012.3,134.4 1048.5,131.9 1075.0,129.4" fill="none" stroke-width="1.7" stroke-linejoin="round"/>
<polyline points="199.6,542.1 230.8,532.1 275.4,522.6 345.1,509.5 428.7,493.4 474.7,485.8 540.2,471.1 595.9,456.6 651.6,440.4 679.5,430.1 707.4,418.1 735.2,404.2 762.9,385.5 801.9,354.8 821.4,334.5 839.5,312.2 856.2,288.5 872.9,262.0 892.5,227.2 912.0,195.2 928.7,173.4 946.8,157.5 969.1,147.5 998.4,140.8 1040.2,134.7 1075.0,129.4" fill="none" stroke-width="1.7" stroke-linejoin="round"/>
<polyline points="709.9,944.4 730.8,919.3 753.1,888.7 771.2,855.2 782.4,827.4 792.1,800.9 800.5,773.4 808.3,744.7 826.1,708.5 845.9,700.4 878.5,698.2 914.7,695.7 956.5,694.0 998.4,692.6 1040.2,690.7" fill="none" stroke-width="1.7" stroke-linejoin="round"/>
<polyline points="191.2,1065.6 230.8,1052.3 275.4,1043.4 364.6,1030.0 428.7,1018.3 498.4,1004.6 568.0,989.6 609.8,978.4 657.2,965.3 708.8,945.5 747.5,926.3 781.0,902.6 820.0,869.2 839.5,846.9 856.2,823.2 872.9,796.7 875.7,791.5 892.5,761.4 912.0,731.6 928.7,714.9 946.8,705.2 964.9,699.6 984.4,696.0 1003.9,693.2 1040.2,690.7 1058.3,689.0 1075.0,685.4" fill="none" stroke-width="1.7" stroke-linejoin="round"/>
<polyline points="637.7,1492.9 665.6,1480.4 693.4,1468.4 712.9,1461.7 735.2,1448.4 753.1,1432.2 771.2,1406.5 789.3,1370.3 800.5,1334.1 810.2,1302.0 818.6,1270.0 825.6,1246.3 843.7,1209.5 859.6,1198.4 881.3,1196.1 914.7,1194.2 956.5,1193.1 1006.7,1191.7 1062.4,1190.0" fill="none" stroke-width="1.7" stroke-linejoin="round"/>
<polyline points="186.2,1583.1 225.7,1566.4 269.8,1558.4 361.8,1545.1 428.7,1532.8 512.3,1518.0 562.4,1510.2 601.5,1502.1 637.7,1492.9 665.6,1482.4 693.4,1473.4 721.3,1462.3 742.0,1455.3 769.8,1438.6 799.1,1416.3 818.6,1398.2 839.5,1374.5 857.6,1349.4 875.7,1317.4 892.5,1285.3 912.0,1250.5 930.1,1224.0 946.0,1210.1 964.9,1203.1 1001.1,1194.8 1020.6,1192.5 1040.2,1191.1 1062.4,1190.0 1077.8,1188.1" fill="none" stroke-width="1.7" stroke-linejoin="round"/>
<polyline points="1475.5,546.1 1485.3,540.4 1491.3,535.7 1498.0,528.2 1528.7,519.2 1584.4,506.1 1654.1,490.2 1723.8,474.6 1779.5,461.5 1821.3,450.4 1848.0,442.4 1887.0,429.2 1911.5,414.7 1934.4,383.2 1956.7,361.7 1980.4,345.6 2004.1,324.7 2027.7,306.0 2051.4,289.8 2073.7,276.5 2094.6,267.0 2119.7,259.2 2154.5,252.2 2188.0,246.6 2221.4,239.7 2260.4,230.7 2303.1,221.0 2335.7,195.1 2363.6,174.2 2394.2,153.3" fill="none" stroke-width="1.7" stroke-linejoin="round"/>
<polyline points="1469.0,554.8 1472.3,546.0 1477.9,540.4 1487.2,534.3 1498.3,528.8 1528.7,519.9 1584.4,506.8 1654.1,490.9 1723.8,475.3 1779.5,462.2 1821.3,451.1 1848.0,443.1 1887.0,429.2 1928.8,415.2 1959.5,402.7 1987.3,390.2 2023.6,370.1 2068.2,341.4 2098.8,317.7 2137.8,289.8 2176.8,267.5 2220.0,243.8 2260.4,231.9 2303.1,221.6 2321.8,210.4 2363.6,175.0 2394.2,153.3" fill="none" stroke-width="1.7" stroke-linejoin="round"/>
<polyline points="1471.6,1079.1 1484.1,1067.9 1509.2,1059.6 1556.5,1049.8 1626.2,1036.7 1668.0,1027.5 1737.7,1013.6 1793.4,999.7 1848.0,989.9 1889.8,971.0 1913.5,951.7 1933.0,925.3 1959.5,904.9 1981.8,889.6 2004.1,877.9 2026.4,867.8 2045.9,859.5 2070.9,851.4 2096.0,843.6 2126.7,835.8 2154.5,831.1 2210.3,822.7 2252.1,813.5 2303.6,802.4 2344.1,782.3 2387.2,761.4" fill="none" stroke-width="1.7" stroke-linejoin="round"/>
<polyline points="1475.7,1077.7 1489.7,1069.3 1528.7,1058.7 1584.4,1047.0 1634.6,1037.8 1668.0,1028.9 1737.7,1014.2 1793.4,1000.2 1848.0,989.9 1889.8,978.8 1928.8,967.6 1959.5,957.0 1992.9,943.9 2023.6,929.2 2047.3,917.5 2070.9,903.5 2093.2,890.4 2115.5,877.0 2137.8,864.5 2171.3,848.6 2206.1,832.5 2252.1,821.3 2303.6,807.9 2345.4,792.0 2387.2,761.4" fill="none" stroke-width="1.7" stroke-linejoin="round"/>
<polyline points="1544.7,1577.2 1556.5,1575.5 1612.3,1565.7 1668.0,1554.6 1723.8,1543.4 1779.5,1530.9 1848.0,1518.7 1881.4,1506.9 1912.7,1486.8 1933.8,1456.7 1959.5,1435.8 1981.8,1419.6 2004.1,1407.4 2022.2,1398.7 2048.7,1391.2 2073.7,1384.8 2126.7,1375.9 2168.5,1369.8 2214.5,1362.0 2260.4,1342.5 2302.2,1322.9 2327.3,1314.6 2349.6,1302.0 2384.5,1283.9" fill="none" stroke-width="1.7" stroke-linejoin="round"/>
<polyline points="1468.2,1608.2 1472.9,1599.8 1482.7,1592.3 1500.8,1585.9 1528.7,1578.9 1556.5,1574.8 1612.3,1565.0 1668.0,1553.9 1723.8,1542.7 1779.5,1530.2 1848.0,1518.0 1881.4,1508.3 1931.6,1493.5 1973.4,1479.6 1999.9,1469.8 2023.6,1458.7 2048.7,1446.4 2070.9,1433.9 2093.2,1421.9 2115.5,1407.9 2137.8,1394.8 2168.5,1382.9 2215.9,1365.6 2260.4,1345.2 2302.2,1325.7 2327.3,1315.1 2377.5,1292.3 2384.5,1283.9" fill="none" stroke-width="1.7" stroke-linejoin="round"/>
<line x1="340.15" y1="110.60" x2="340.15" y2="368.55" stroke-width="2.9" stroke-linecap="butt"/>
<line x1="331.75" y1="367.25" x2="697.45" y2="367.25" stroke-width="2.6" stroke-linecap="butt"/>
<line x1="324.35" y1="111.90" x2="340.15" y2="111.90" stroke-width="2.6" stroke-linecap="butt"/>
<line x1="331.75" y1="140.20" x2="340.15" y2="140.20" stroke-width="2.6" stroke-linecap="butt"/>
<text transform="translate(263.18,119.17) scale(1.0528,1)" font-size="25.37" font-family="'Liberation Sans',Arial,sans-serif">0.04</text>
<line x1="324.35" y1="168.50" x2="340.15" y2="168.50" stroke-width="2.6" stroke-linecap="butt"/>
<line x1="331.75" y1="196.80" x2="340.15" y2="196.80" stroke-width="2.6" stroke-linecap="butt"/>
<text transform="translate(263.17,175.77) scale(1.0613,1)" font-size="25.37" font-family="'Liberation Sans',Arial,sans-serif">0.03</text>
<line x1="324.35" y1="225.10" x2="340.15" y2="225.10" stroke-width="2.6" stroke-linecap="butt"/>
<line x1="331.75" y1="253.40" x2="340.15" y2="253.40" stroke-width="2.6" stroke-linecap="butt"/>
<text transform="translate(263.17,232.37) scale(1.0656,1)" font-size="25.37" font-family="'Liberation Sans',Arial,sans-serif">0.02</text>
<line x1="324.35" y1="281.70" x2="340.15" y2="281.70" stroke-width="2.6" stroke-linecap="butt"/>
<line x1="331.75" y1="310.00" x2="340.15" y2="310.00" stroke-width="2.6" stroke-linecap="butt"/>
<text transform="translate(263.17,288.97) scale(1.0642,1)" font-size="25.37" font-family="'Liberation Sans',Arial,sans-serif">0.01</text>
<line x1="324.35" y1="338.30" x2="340.15" y2="338.30" stroke-width="2.6" stroke-linecap="butt"/>
<text transform="translate(263.18,345.57) scale(1.0585,1)" font-size="25.37" font-family="'Liberation Sans',Arial,sans-serif">0.00</text>
<line x1="340.00" y1="367.25" x2="340.00" y2="381.25" stroke-width="2.9" stroke-linecap="butt"/>
<line x1="399.45" y1="367.25" x2="399.45" y2="374.55" stroke-width="2.9" stroke-linecap="butt"/>
<line x1="458.90" y1="367.25" x2="458.90" y2="381.25" stroke-width="2.9" stroke-linecap="butt"/>
<line x1="518.20" y1="367.25" x2="518.20" y2="374.55" stroke-width="2.9" stroke-linecap="butt"/>
<line x1="577.50" y1="367.25" x2="577.50" y2="381.25" stroke-width="2.9" stroke-linecap="butt"/>
<line x1="636.75" y1="367.25" x2="636.75" y2="374.55" stroke-width="2.9" stroke-linecap="butt"/>
<line x1="696.00" y1="367.25" x2="696.00" y2="381.25" stroke-width="2.9" stroke-linecap="butt"/>
<text transform="translate(332.66,408.95) scale(1.0791,1)" font-size="25.23" font-family="'Liberation Sans',Arial,sans-serif">0</text>
<text transform="translate(444.35,408.95) scale(1.0331,1)" font-size="25.23" font-family="'Liberation Sans',Arial,sans-serif">10</text>
<text transform="translate(562.54,408.95) scale(1.0776,1)" font-size="25.23" font-family="'Liberation Sans',Arial,sans-serif">20</text>
<text transform="translate(681.34,408.95) scale(1.0148,1)" font-size="25.23" font-family="'Liberation Sans',Arial,sans-serif">30</text>
<text transform="translate(383.62,442.70) scale(1.1044,1)" font-size="27.20" font-family="'Liberation Sans',Arial,sans-serif">Pore diameter, nm</text>
<text transform="translate(242.30,320.67) rotate(-90) scale(0.9835,1)" font-size="28.00" font-family="'Liberation Sans',Arial,sans-serif">dVd, cc/nm/g</text>
<polyline points="354.0,338.1 360.4,338.1 362.6,329.8 365.1,308.0 367.4,298.3 370.7,278.8 373.8,278.2 379.1,257.3 381.9,256.7 386.0,242.5 389.7,223.0 391.9,220.2 395.2,220.0 396.6,211.9 400.8,202.1 403.6,191.5 407.2,188.2 410.6,173.7 414.7,164.5 420.3,149.2 425.9,143.6 432.9,133.9 439.8,129.7 448.2,141.4 485.8,289.1 505.3,318.1 530.4,329.5 562.4,333.9 609.8,336.2 696.2,337.8" fill="none" stroke-width="1.1" stroke-linejoin="round"/>
<line x1="336.40" y1="635.70" x2="336.40" y2="895.85" stroke-width="2.9" stroke-linecap="butt"/>
<line x1="320.60" y1="894.55" x2="697.45" y2="894.55" stroke-width="2.6" stroke-linecap="butt"/>
<line x1="320.60" y1="637.00" x2="336.40" y2="637.00" stroke-width="2.6" stroke-linecap="butt"/>
<line x1="328.00" y1="669.19" x2="336.40" y2="669.19" stroke-width="2.6" stroke-linecap="butt"/>
<text transform="translate(259.02,644.25) scale(1.0673,1)" font-size="25.30" font-family="'Liberation Sans',Arial,sans-serif">0.04</text>
<line x1="320.60" y1="701.39" x2="336.40" y2="701.39" stroke-width="2.6" stroke-linecap="butt"/>
<line x1="328.00" y1="733.58" x2="336.40" y2="733.58" stroke-width="2.6" stroke-linecap="butt"/>
<text transform="translate(259.01,708.63) scale(1.0759,1)" font-size="25.30" font-family="'Liberation Sans',Arial,sans-serif">0.03</text>
<line x1="320.60" y1="765.77" x2="336.40" y2="765.77" stroke-width="2.6" stroke-linecap="butt"/>
<line x1="328.00" y1="797.97" x2="336.40" y2="797.97" stroke-width="2.6" stroke-linecap="butt"/>
<text transform="translate(259.01,773.02) scale(1.0803,1)" font-size="25.30" font-family="'Liberation Sans',Arial,sans-serif">0.02</text>
<line x1="320.60" y1="830.16" x2="336.40" y2="830.16" stroke-width="2.6" stroke-linecap="butt"/>
<line x1="328.00" y1="862.36" x2="336.40" y2="862.36" stroke-width="2.6" stroke-linecap="butt"/>
<text transform="translate(259.01,837.41) scale(1.0788,1)" font-size="25.30" font-family="'Liberation Sans',Arial,sans-serif">0.01</text>
<text transform="translate(259.01,901.80) scale(1.0731,1)" font-size="25.30" font-family="'Liberation Sans',Arial,sans-serif">0.00</text>
<line x1="336.40" y1="894.55" x2="336.40" y2="908.55" stroke-width="2.9" stroke-linecap="butt"/>
<line x1="396.32" y1="894.55" x2="396.32" y2="901.85" stroke-width="2.9" stroke-linecap="butt"/>
<line x1="456.25" y1="894.55" x2="456.25" y2="908.55" stroke-width="2.9" stroke-linecap="butt"/>
<line x1="516.02" y1="894.55" x2="516.02" y2="901.85" stroke-width="2.9" stroke-linecap="butt"/>
<line x1="575.80" y1="894.55" x2="575.80" y2="908.55" stroke-width="2.9" stroke-linecap="butt"/>
<line x1="635.90" y1="894.55" x2="635.90" y2="901.85" stroke-width="2.9" stroke-linecap="butt"/>
<line x1="696.00" y1="894.55" x2="696.00" y2="908.55" stroke-width="2.9" stroke-linecap="butt"/>
<text transform="translate(329.18,936.65) scale(1.1154,1)" font-size="25.16" font-family="'Liberation Sans',Arial,sans-serif">0</text>
<text transform="translate(442.03,936.65) scale(1.0440,1)" font-size="25.16" font-family="'Liberation Sans',Arial,sans-serif">10</text>
<text transform="translate(560.54,936.65) scale(1.0845,1)" font-size="25.16" font-family="'Liberation Sans',Arial,sans-serif">20</text>
<text transform="translate(680.82,936.65) scale(1.0369,1)" font-size="25.16" font-family="'Liberation Sans',Arial,sans-serif">30</text>
<text transform="translate(382.20,971.50) scale(1.1032,1)" font-size="27.49" font-family="'Liberation Sans',Arial,sans-serif">Pore diameter, nm</text>
<text transform="translate(239.10,850.17) rotate(-90) scale(0.9835,1)" font-size="28.00" font-family="'Liberation Sans',Arial,sans-serif">dVd, cc/nm/g</text>
<polyline points="359.9,893.7 360.5,885.3 361.6,870.7 364.4,854.1 367.9,832.6 369.8,831.1 373.2,825.2 376.1,820.9 378.6,808.2 381.0,803.0 383.5,797.5 385.8,780.9 388.2,782.3 390.7,765.3 393.2,768.3 396.0,749.7 399.5,740.9 403.8,724.4 408.3,715.6 412.2,697.1 417.0,683.4 423.9,667.8 429.7,649.8 446.3,680.5 454.1,722.4 461.9,767.3 469.3,807.3 482.8,856.4 501.3,880.0 526.3,888.2 559.5,891.5 600.4,893.7 696.0,894.1" fill="none" stroke-width="1.1" stroke-linejoin="round"/>
<line x1="340.30" y1="1146.60" x2="340.30" y2="1404.50" stroke-width="2.9" stroke-linecap="butt"/>
<line x1="324.50" y1="1403.20" x2="698.55" y2="1403.20" stroke-width="2.6" stroke-linecap="butt"/>
<line x1="324.50" y1="1147.90" x2="340.30" y2="1147.90" stroke-width="2.6" stroke-linecap="butt"/>
<line x1="331.90" y1="1179.81" x2="340.30" y2="1179.81" stroke-width="2.6" stroke-linecap="butt"/>
<text transform="translate(263.65,1155.15) scale(1.0400,1)" font-size="25.30" font-family="'Liberation Sans',Arial,sans-serif">0.04</text>
<line x1="324.50" y1="1211.73" x2="340.30" y2="1211.73" stroke-width="2.6" stroke-linecap="butt"/>
<line x1="331.90" y1="1243.64" x2="340.30" y2="1243.64" stroke-width="2.6" stroke-linecap="butt"/>
<text transform="translate(263.64,1218.97) scale(1.0483,1)" font-size="25.30" font-family="'Liberation Sans',Arial,sans-serif">0.03</text>
<line x1="324.50" y1="1275.55" x2="340.30" y2="1275.55" stroke-width="2.6" stroke-linecap="butt"/>
<line x1="331.90" y1="1307.46" x2="340.30" y2="1307.46" stroke-width="2.6" stroke-linecap="butt"/>
<text transform="translate(263.63,1282.80) scale(1.0526,1)" font-size="25.30" font-family="'Liberation Sans',Arial,sans-serif">0.02</text>
<line x1="324.50" y1="1339.38" x2="340.30" y2="1339.38" stroke-width="2.6" stroke-linecap="butt"/>
<line x1="331.90" y1="1371.29" x2="340.30" y2="1371.29" stroke-width="2.6" stroke-linecap="butt"/>
<text transform="translate(263.64,1346.62) scale(1.0512,1)" font-size="25.30" font-family="'Liberation Sans',Arial,sans-serif">0.01</text>
<text transform="translate(263.64,1410.45) scale(1.0455,1)" font-size="25.30" font-family="'Liberation Sans',Arial,sans-serif">0.00</text>
<line x1="340.30" y1="1403.20" x2="340.30" y2="1417.20" stroke-width="2.9" stroke-linecap="butt"/>
<line x1="399.65" y1="1403.20" x2="399.65" y2="1410.50" stroke-width="2.9" stroke-linecap="butt"/>
<line x1="459.00" y1="1403.20" x2="459.00" y2="1417.20" stroke-width="2.9" stroke-linecap="butt"/>
<line x1="518.60" y1="1403.20" x2="518.60" y2="1410.50" stroke-width="2.9" stroke-linecap="butt"/>
<line x1="578.20" y1="1403.20" x2="578.20" y2="1417.20" stroke-width="2.9" stroke-linecap="butt"/>
<line x1="637.65" y1="1403.20" x2="637.65" y2="1410.50" stroke-width="2.9" stroke-linecap="butt"/>
<line x1="697.10" y1="1403.20" x2="697.10" y2="1417.20" stroke-width="2.9" stroke-linecap="butt"/>
<text transform="translate(333.40,1445.55) scale(1.0904,1)" font-size="25.16" font-family="'Liberation Sans',Arial,sans-serif">0</text>
<text transform="translate(445.14,1445.55) scale(1.0400,1)" font-size="25.16" font-family="'Liberation Sans',Arial,sans-serif">10</text>
<text transform="translate(563.37,1445.55) scale(1.0534,1)" font-size="25.16" font-family="'Liberation Sans',Arial,sans-serif">20</text>
<text transform="translate(682.24,1445.55) scale(1.0138,1)" font-size="25.16" font-family="'Liberation Sans',Arial,sans-serif">30</text>
<text transform="translate(385.21,1479.80) scale(1.0959,1)" font-size="27.49" font-family="'Liberation Sans',Arial,sans-serif">Pore diameter, nm</text>
<text transform="translate(243.00,1357.75) rotate(-90) scale(0.9655,1)" font-size="28.00" font-family="'Liberation Sans',Arial,sans-serif">dVd, cc/nm/g</text>
<polyline points="363.7,1402.6 364.6,1387.0 367.9,1366.1 371.0,1349.4 373.8,1345.2 375.7,1357.8 378.0,1375.9 379.1,1295.1 379.9,1194.8 381.0,1295.1 382.1,1371.7 384.6,1345.2 386.9,1325.7 389.1,1313.2 392.5,1304.8 396.6,1292.3 400.8,1282.5 403.6,1271.4 406.9,1260.2 411.4,1240.7 415.3,1230.4 419.8,1212.9 425.9,1190.6 433.4,1168.3 440.7,1158.5 449.6,1168.3 454.3,1189.2 460.7,1219.8 467.7,1258.8 476.1,1300.7 485.8,1346.6 504.5,1382.3 530.4,1394.6 554.1,1397.6 579.2,1399.9 609.8,1401.8 640.5,1402.4 696.2,1402.4" fill="none" stroke-width="1.1" stroke-linejoin="round"/>
<line x1="1622.90" y1="115.20" x2="1622.90" y2="380.30" stroke-width="2.9" stroke-linecap="butt"/>
<line x1="1607.10" y1="379.00" x2="1988.35" y2="379.00" stroke-width="2.6" stroke-linecap="butt"/>
<line x1="1607.10" y1="116.50" x2="1622.90" y2="116.50" stroke-width="2.6" stroke-linecap="butt"/>
<line x1="1614.50" y1="160.25" x2="1622.90" y2="160.25" stroke-width="2.6" stroke-linecap="butt"/>
<text transform="translate(1545.09,123.89) scale(1.0749,1)" font-size="25.72" font-family="'Liberation Sans',Arial,sans-serif">0.03</text>
<line x1="1607.10" y1="204.00" x2="1622.90" y2="204.00" stroke-width="2.6" stroke-linecap="butt"/>
<line x1="1614.50" y1="247.75" x2="1622.90" y2="247.75" stroke-width="2.6" stroke-linecap="butt"/>
<text transform="translate(1545.09,211.39) scale(1.0792,1)" font-size="25.72" font-family="'Liberation Sans',Arial,sans-serif">0.02</text>
<line x1="1607.10" y1="291.50" x2="1622.90" y2="291.50" stroke-width="2.6" stroke-linecap="butt"/>
<line x1="1614.50" y1="335.25" x2="1622.90" y2="335.25" stroke-width="2.6" stroke-linecap="butt"/>
<text transform="translate(1545.09,298.89) scale(1.0778,1)" font-size="25.72" font-family="'Liberation Sans',Arial,sans-serif">0.01</text>
<text transform="translate(1545.10,386.39) scale(1.0720,1)" font-size="25.72" font-family="'Liberation Sans',Arial,sans-serif">0.00</text>
<line x1="1622.90" y1="379.00" x2="1622.90" y2="393.00" stroke-width="2.9" stroke-linecap="butt"/>
<line x1="1683.65" y1="379.00" x2="1683.65" y2="386.30" stroke-width="2.9" stroke-linecap="butt"/>
<line x1="1744.40" y1="379.00" x2="1744.40" y2="393.00" stroke-width="2.9" stroke-linecap="butt"/>
<line x1="1805.05" y1="379.00" x2="1805.05" y2="386.30" stroke-width="2.9" stroke-linecap="butt"/>
<line x1="1865.70" y1="379.00" x2="1865.70" y2="393.00" stroke-width="2.9" stroke-linecap="butt"/>
<line x1="1926.30" y1="379.00" x2="1926.30" y2="386.30" stroke-width="2.9" stroke-linecap="butt"/>
<line x1="1986.90" y1="379.00" x2="1986.90" y2="393.00" stroke-width="2.9" stroke-linecap="butt"/>
<text transform="translate(1615.68,422.34) scale(1.0969,1)" font-size="25.58" font-family="'Liberation Sans',Arial,sans-serif">0</text>
<text transform="translate(1729.52,422.34) scale(1.0815,1)" font-size="25.58" font-family="'Liberation Sans',Arial,sans-serif">10</text>
<text transform="translate(1849.37,422.34) scale(1.1163,1)" font-size="25.58" font-family="'Liberation Sans',Arial,sans-serif">20</text>
<text transform="translate(1971.87,422.34) scale(1.0726,1)" font-size="25.58" font-family="'Liberation Sans',Arial,sans-serif">30</text>
<text transform="translate(1667.57,457.05) scale(1.1163,1)" font-size="27.49" font-family="'Liberation Sans',Arial,sans-serif">Pore diameter, nm</text>
<text transform="translate(1523.40,331.19) rotate(-90) scale(1.0010,1)" font-size="28.00" font-family="'Liberation Sans',Arial,sans-serif">dVd, cc/nm/g</text>
<polyline points="1638.8,117.0 1639.3,206.2 1640.7,256.4 1642.4,287.0 1644.3,296.8 1646.3,289.8 1648.5,284.3 1650.2,271.7 1651.9,252.2 1653.5,245.2 1654.9,243.8 1656.9,228.5 1659.1,220.2 1661.1,206.2 1663.3,183.9 1665.8,189.5 1668.0,185.3 1670.8,168.0 1673.0,167.2 1676.4,146.3 1679.7,150.5 1683.6,141.3 1687.5,144.9 1692.5,151.3 1697.3,159.7 1702.0,181.1 1734.9,306.5 1810.7,367.9 1848.0,367.9 1987.3,368.7" fill="none" stroke-width="1.1" stroke-linejoin="round"/>
<line x1="1620.30" y1="644.30" x2="1620.30" y2="907.50" stroke-width="2.9" stroke-linecap="butt"/>
<line x1="1604.50" y1="906.20" x2="1983.85" y2="906.20" stroke-width="2.6" stroke-linecap="butt"/>
<line x1="1604.50" y1="645.60" x2="1620.30" y2="645.60" stroke-width="2.6" stroke-linecap="butt"/>
<line x1="1611.90" y1="689.03" x2="1620.30" y2="689.03" stroke-width="2.6" stroke-linecap="butt"/>
<text transform="translate(1542.92,652.97) scale(1.0486,1)" font-size="25.65" font-family="'Liberation Sans',Arial,sans-serif">0.03</text>
<line x1="1604.50" y1="732.47" x2="1620.30" y2="732.47" stroke-width="2.6" stroke-linecap="butt"/>
<line x1="1611.90" y1="775.90" x2="1620.30" y2="775.90" stroke-width="2.6" stroke-linecap="butt"/>
<text transform="translate(1542.92,739.84) scale(1.0528,1)" font-size="25.65" font-family="'Liberation Sans',Arial,sans-serif">0.02</text>
<line x1="1604.50" y1="819.33" x2="1620.30" y2="819.33" stroke-width="2.6" stroke-linecap="butt"/>
<line x1="1611.90" y1="862.77" x2="1620.30" y2="862.77" stroke-width="2.6" stroke-linecap="butt"/>
<text transform="translate(1542.92,826.70) scale(1.0514,1)" font-size="25.65" font-family="'Liberation Sans',Arial,sans-serif">0.01</text>
<text transform="translate(1542.93,913.57) scale(1.0457,1)" font-size="25.65" font-family="'Liberation Sans',Arial,sans-serif">0.00</text>
<line x1="1620.30" y1="906.20" x2="1620.30" y2="920.20" stroke-width="2.9" stroke-linecap="butt"/>
<line x1="1680.80" y1="906.20" x2="1680.80" y2="913.50" stroke-width="2.9" stroke-linecap="butt"/>
<line x1="1741.30" y1="906.20" x2="1741.30" y2="920.20" stroke-width="2.9" stroke-linecap="butt"/>
<line x1="1801.60" y1="906.20" x2="1801.60" y2="913.50" stroke-width="2.9" stroke-linecap="butt"/>
<line x1="1861.90" y1="906.20" x2="1861.90" y2="920.20" stroke-width="2.9" stroke-linecap="butt"/>
<line x1="1922.15" y1="906.20" x2="1922.15" y2="913.50" stroke-width="2.9" stroke-linecap="butt"/>
<line x1="1982.40" y1="906.20" x2="1982.40" y2="920.20" stroke-width="2.9" stroke-linecap="butt"/>
<text transform="translate(1613.38,948.64) scale(1.1000,1)" font-size="25.51" font-family="'Liberation Sans',Arial,sans-serif">0</text>
<text transform="translate(1727.08,948.64) scale(1.0059,1)" font-size="25.51" font-family="'Liberation Sans',Arial,sans-serif">10</text>
<text transform="translate(1846.11,948.64) scale(1.0887,1)" font-size="25.51" font-family="'Liberation Sans',Arial,sans-serif">20</text>
<text transform="translate(1966.97,948.64) scale(1.0793,1)" font-size="25.51" font-family="'Liberation Sans',Arial,sans-serif">30</text>
<text transform="translate(1664.38,984.20) scale(1.0861,1)" font-size="28.07" font-family="'Liberation Sans',Arial,sans-serif">Pore diameter, nm</text>
<text transform="translate(1521.20,857.78) rotate(-90) scale(0.9916,1)" font-size="28.00" font-family="'Liberation Sans',Arial,sans-serif">dVd, cc/nm/g</text>
<polyline points="1635.6,645.8 1636.2,717.5 1636.8,781.9 1637.5,813.1 1638.1,835.6 1639.9,841.4 1641.4,847.3 1642.8,836.5 1644.4,840.0 1645.9,824.8 1647.3,806.9 1648.7,811.2 1650.6,793.0 1652.6,791.7 1654.1,785.8 1655.7,760.1 1658.0,768.3 1660.4,754.6 1662.9,743.9 1665.4,735.1 1667.4,727.3 1669.7,728.3 1672.7,720.5 1676.0,718.9 1680.5,704.5 1684.8,716.0 1688.9,716.6 1694.1,727.3 1700.0,752.7 1726.3,841.8 1801.4,894.5 1872.6,898.0 1960.4,902.3 1982.8,902.5" fill="none" stroke-width="1.1" stroke-linejoin="round"/>
<line x1="1620.00" y1="1160.00" x2="1620.00" y2="1418.60" stroke-width="2.9" stroke-linecap="butt"/>
<line x1="1604.20" y1="1417.30" x2="1976.85" y2="1417.30" stroke-width="2.6" stroke-linecap="butt"/>
<line x1="1604.20" y1="1161.30" x2="1620.00" y2="1161.30" stroke-width="2.6" stroke-linecap="butt"/>
<line x1="1611.60" y1="1203.97" x2="1620.00" y2="1203.97" stroke-width="2.6" stroke-linecap="butt"/>
<text transform="translate(1543.64,1168.64) scale(1.0368,1)" font-size="25.58" font-family="'Liberation Sans',Arial,sans-serif">0.03</text>
<line x1="1604.20" y1="1246.63" x2="1620.00" y2="1246.63" stroke-width="2.6" stroke-linecap="butt"/>
<line x1="1611.60" y1="1289.30" x2="1620.00" y2="1289.30" stroke-width="2.6" stroke-linecap="butt"/>
<text transform="translate(1543.63,1253.98) scale(1.0410,1)" font-size="25.58" font-family="'Liberation Sans',Arial,sans-serif">0.02</text>
<line x1="1604.20" y1="1331.97" x2="1620.00" y2="1331.97" stroke-width="2.6" stroke-linecap="butt"/>
<line x1="1611.60" y1="1374.63" x2="1620.00" y2="1374.63" stroke-width="2.6" stroke-linecap="butt"/>
<text transform="translate(1543.64,1339.31) scale(1.0396,1)" font-size="25.58" font-family="'Liberation Sans',Arial,sans-serif">0.01</text>
<text transform="translate(1543.64,1424.64) scale(1.0340,1)" font-size="25.58" font-family="'Liberation Sans',Arial,sans-serif">0.00</text>
<line x1="1620.00" y1="1417.30" x2="1620.00" y2="1431.30" stroke-width="2.9" stroke-linecap="butt"/>
<line x1="1679.25" y1="1417.30" x2="1679.25" y2="1424.60" stroke-width="2.9" stroke-linecap="butt"/>
<line x1="1738.50" y1="1417.30" x2="1738.50" y2="1431.30" stroke-width="2.9" stroke-linecap="butt"/>
<line x1="1797.70" y1="1417.30" x2="1797.70" y2="1424.60" stroke-width="2.9" stroke-linecap="butt"/>
<line x1="1856.90" y1="1417.30" x2="1856.90" y2="1431.30" stroke-width="2.9" stroke-linecap="butt"/>
<line x1="1916.15" y1="1417.30" x2="1916.15" y2="1424.60" stroke-width="2.9" stroke-linecap="butt"/>
<line x1="1975.40" y1="1417.30" x2="1975.40" y2="1431.30" stroke-width="2.9" stroke-linecap="butt"/>
<text transform="translate(1612.49,1459.15) scale(1.0866,1)" font-size="25.44" font-family="'Liberation Sans',Arial,sans-serif">0</text>
<text transform="translate(1724.23,1459.15) scale(1.0324,1)" font-size="25.44" font-family="'Liberation Sans',Arial,sans-serif">10</text>
<text transform="translate(1841.16,1459.15) scale(1.0533,1)" font-size="25.44" font-family="'Liberation Sans',Arial,sans-serif">20</text>
<text transform="translate(1959.66,1459.15) scale(1.0899,1)" font-size="25.44" font-family="'Liberation Sans',Arial,sans-serif">30</text>
<text transform="translate(1663.54,1494.20) scale(1.0617,1)" font-size="28.07" font-family="'Liberation Sans',Arial,sans-serif">Pore diameter, nm</text>
<text transform="translate(1523.20,1371.36) rotate(-90) scale(0.9767,1)" font-size="28.00" font-family="'Liberation Sans',Arial,sans-serif">dVd, cc/nm/g</text>
<polyline points="1634.6,1162.7 1635.4,1239.3 1636.3,1306.2 1637.4,1336.9 1638.8,1348.0 1640.2,1348.0 1641.5,1345.8 1642.9,1345.2 1644.6,1339.7 1647.1,1325.7 1649.9,1310.4 1651.6,1301.2 1654.6,1292.3 1657.7,1278.4 1661.1,1264.4 1663.8,1253.3 1666.1,1249.1 1668.6,1238.5 1671.4,1237.1 1674.4,1233.8 1678.6,1222.6 1682.0,1233.2 1688.1,1233.8 1693.1,1244.9 1727.9,1369.5 1779.5,1374.5 1848.0,1379.5 1975.4,1389.8" fill="none" stroke-width="1.1" stroke-linejoin="round"/>
<text transform="translate(530.77,1940.73) scale(0.9563,1)" font-size="68.10" font-family="'Liberation Serif','Times New Roman',serif">(<tspan font-weight="bold">a</tspan>)</text>
<text transform="translate(1914.53,1940.73) scale(1.0023,1)" font-size="68.10" font-family="'Liberation Serif','Times New Roman',serif">(<tspan font-weight="bold">b</tspan>)</text>
</svg>
</body></html>
